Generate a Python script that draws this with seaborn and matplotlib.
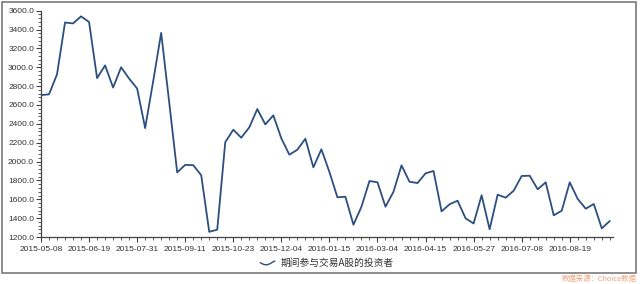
import numpy as np
import pandas as pd
import matplotlib
matplotlib.use("Agg")
import matplotlib.pyplot as plt
import seaborn as sns
from matplotlib.ticker import AutoMinorLocator, FixedLocator, FuncFormatter
from matplotlib.legend_handler import HandlerBase
from matplotlib.lines import Line2D
from matplotlib.patches import Rectangle

# ---- data ----
dates = [d.strftime("%Y-%m-%d") for d in pd.date_range("2015-05-08", periods=73, freq="W-FRI")
         if d.strftime("%Y-%m-%d") != "2016-02-12"]
values = [2705, 2713, 2925, 3475, 3465, 3540, 3480, 2885, 3020, 2785,
          3000, 2880, 2775, 2355, 2850, 3365, 2630, 1885, 1965, 1962,
          1855, 1255, 1278, 2205, 2338, 2253, 2363, 2557, 2394, 2490,
          2246, 2073, 2126, 2242, 1939, 2130, 1890, 1621, 1627, 1330,
          1521, 1794, 1780, 1521, 1680, 1960, 1786, 1772, 1875, 1900,
          1472, 1547, 1585, 1398, 1343, 1642, 1282, 1649, 1617, 1691,
          1847, 1850, 1706, 1780, 1430, 1479, 1780, 1603, 1500, 1550,
          1292, 1370]
series_name = "期间参与交易A股的投资者"
source_text = "数据来源：Choice数据"
yticks = [1200, 1400, 1600, 1800, 2000, 2200, 2400, 2600, 2800, 3000, 3200, 3400, 3600]

df = pd.DataFrame({"date": dates, "value": values, "series": series_name})

sns.set_theme(style="white")
plt.rcParams["font.family"] = ["Liberation Sans", "Noto Sans CJK SC", "DejaVu Sans"]

line_color = "#2c4f80"
axis_color = "#444444"

fig = plt.figure(figsize=(6.4, 2.84), dpi=100)
ax = fig.add_axes([41 / 640, 1 - 237 / 284, (613 - 41) / 640, (237 - 10.7) / 284])

sns.lineplot(data=df, x="date", y="value", ax=ax, color=line_color, linewidth=1.3,
             estimator=None, sort=False, legend=False)

ax.set_xlim(0, 71.4)
ax.set_ylim(1200, 3600)
ax.set_xlabel("")
ax.set_ylabel("")

major_idx = list(range(0, len(dates), 6))
ax.xaxis.set_major_locator(FixedLocator(major_idx))
ax.xaxis.set_minor_locator(FixedLocator(list(range(len(dates)))))
ax.xaxis.set_major_formatter(FuncFormatter(lambda v, p: dates[int(round(v))] if 0 <= int(round(v)) < len(dates) else ""))
ax.yaxis.set_major_locator(FixedLocator(yticks))
ax.yaxis.set_minor_locator(AutoMinorLocator(5))
ax.yaxis.set_major_formatter(FuncFormatter(lambda v, p: f"{v:.1f}"))

for s in ["top", "right"]:
    ax.spines[s].set_visible(False)
for s in ["left", "bottom"]:
    ax.spines[s].set_color(axis_color)
    ax.spines[s].set_linewidth(0.9)

ax.tick_params(axis="both", which="both", bottom=True, left=True, top=False, right=False)
ax.tick_params(axis="both", which="major", direction="out", length=3.5, width=0.8,
               color=axis_color, labelsize=6.0, labelcolor="#333333", pad=2)
ax.tick_params(axis="both", which="minor", direction="out", length=2, width=0.6,
               color=axis_color)
ax.tick_params(axis="y", which="major", pad=1.5)
ax.tick_params(axis="x", which="major", pad=3)
ax.grid(False)


class WaveHandler(HandlerBase):
    def create_artists(self, legend, orig_handle, xdescent, ydescent, width, height, fontsize, trans):
        t = np.linspace(0, 1, 40)
        xs = -xdescent + t * width
        ys = -ydescent + height / 2 - 0.32 * height * np.sin(np.pi * 1.25 * t)
        ln = Line2D(xs, ys, color=orig_handle.get_color(), linewidth=1.0, transform=trans)
        return [ln]


handle = Line2D([], [], color=line_color, linewidth=1.0)
fig.legend([handle], [series_name], loc="center", bbox_to_anchor=(327 / 640, 1 - 263 / 284),
           frameon=False, handler_map={Line2D: WaveHandler()}, handlelength=1.5,
           handletextpad=0.6, prop={"family": ["Noto Sans CJK SC", "DejaVu Sans"], "size": 7},
           labelcolor="#333333")

# outer frame
fig.patches.append(Rectangle((1.5 / 640, 1 - 272.5 / 284), (636 - 1.5) / 640, (272.5 - 1.5) / 284,
                             transform=fig.transFigure, fill=False, edgecolor="#7a7a7a",
                             linewidth=1.2))

fig.text(637 / 640, 1 - 279.5 / 284, source_text, ha="right", va="center", fontsize=5.3,
         color="#f2a37c", family=["Noto Sans CJK SC", "DejaVu Sans"])

fig.savefig("out.png", dpi=100)
